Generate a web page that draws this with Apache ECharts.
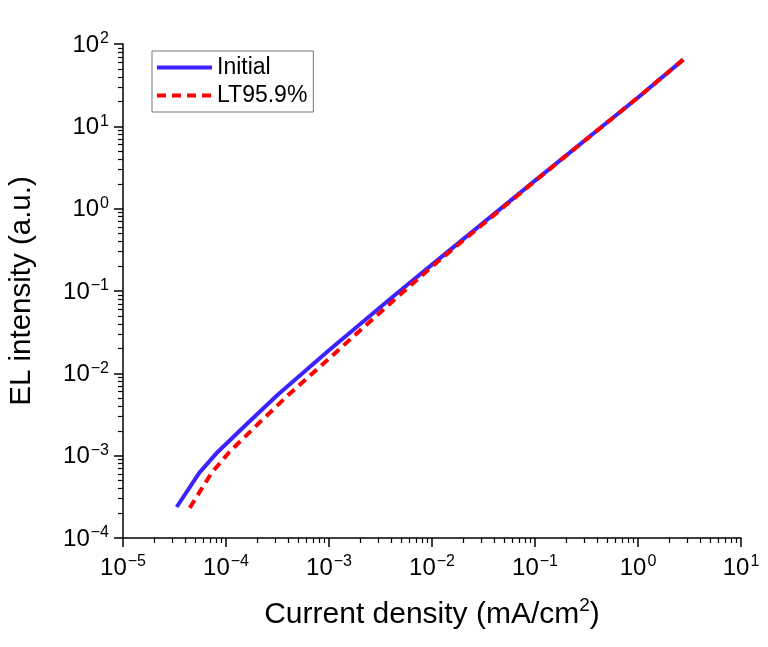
<!DOCTYPE html>
<html>
<head>
<meta charset="utf-8">
<script src="https://cdn.jsdelivr.net/npm/echarts@6/dist/echarts.min.js"></script>
<style>
  html, body { margin: 0; padding: 0; background: #fff; }
  #chart { width: 768px; height: 647px; }
</style>
</head>
<body>
<div id="chart"></div>
<script>
// current density (mA/cm2) and EL intensity (a.u.)
var initialX = [3.32e-5, 5.5e-5, 8.3e-5, 1.63e-4, 3.18e-4, 1e-3, 3.89e-3, 0.01, 0.1, 1, 2.75];
var initialY = [2.38e-4, 6.17e-4, 1.11e-3, 2.49e-3, 5.5e-3, 0.0191, 0.0794, 0.209, 2.19, 22.4, 64.6];
var lt959X = [4.45e-5, 7.24e-5, 1.08e-4, 2.09e-4, 4.05e-4, 1.23e-3, 4.37e-3, 0.0105, 0.101, 1, 2.75];
var lt959Y = [2.32e-4, 6.17e-4, 1.11e-3, 2.49e-3, 5.5e-3, 0.0191, 0.0794, 0.209, 2.19, 22.4, 64.6];
var seriesNames = ['Initial', 'LT95.9%'];

var xRange = [1e-5, 10];
var yRange = [1e-4, 100];

// minor ticks at 2..9 of each decade
function minorTicks(lo, hi) {
    var out = [];
    for (var e = lo; e < hi; e++) {
        for (var k = 2; k <= 9; k++) out.push(k * Math.pow(10, e));
    }
    return out;
}
var xMinor = minorTicks(-5, 1);
var yMinor = minorTicks(-4, 2);

var font = 'Liberation Sans';

function pairs(xs, ys) {
    var d = [];
    for (var i = 0; i < xs.length; i++) d.push([xs[i], ys[i]]);
    return d;
}

function powLabel(v) {
    var e = Math.round(Math.log10(v));
    return '{b|10}{s|' + String(e).replace('-', '\u2212') + '}';
}

var labelRich = {
    b: { fontSize: 24, fontFamily: font, color: '#000', lineHeight: 26, verticalAlign: 'bottom' },
    s: { fontSize: 16, fontFamily: font, color: '#000', lineHeight: 26, verticalAlign: 'top', padding: [0, 0, 6, 1] }
};

var axisLineStyle = { color: '#000', width: 1.5 };

var myChart = echarts.init(document.getElementById('chart'));
var option = {
    animation: false,
    grid: {
        left: 123,
        right: 27,
        top: 44,
        bottom: 109,
        containLabel: false,
        outerBoundsMode: 'none'
    },
    legend: {
        orient: 'vertical',
        left: 152,
        top: 51,
        itemWidth: 55,
        itemHeight: 14,
        itemGap: 5,
        padding: [5, 6, 5, 3],
        borderColor: '#777',
        borderWidth: 1,
        borderRadius: 0,
        itemStyle: { opacity: 0 },
        lineStyle: { width: 4 },
        textStyle: { fontSize: 23, fontFamily: font, color: '#000' },
        data: seriesNames
    },
    xAxis: [
        {
            type: 'log',
            logBase: 10,
            min: xRange[0],
            max: xRange[1],
            interval: 1,
            position: 'bottom',
            name: '{t|Current density (mA/cm}{u|2}{t|)}',
            nameLocation: 'middle',
            nameGap: 58,
            nameTextStyle: {
                rich: {
                    t: { fontSize: 30, fontFamily: font, color: '#000', lineHeight: 34, verticalAlign: 'bottom' },
                    u: { fontSize: 19, fontFamily: font, color: '#000', lineHeight: 34, verticalAlign: 'top' }
                }
            },
            axisLine: { show: true, onZero: false, lineStyle: axisLineStyle },
            axisTick: { show: true, inside: false, length: 9, lineStyle: axisLineStyle },
            axisLabel: { margin: 16, formatter: powLabel, rich: labelRich },
            splitLine: { show: false },
            minorTick: { show: false }
        },
        {
            type: 'log',
            logBase: 10,
            min: xRange[0],
            max: xRange[1],
            position: 'bottom',
            offset: 0,
            axisLine: { show: false },
            axisTick: { show: true, inside: false, length: 5, customValues: xMinor, lineStyle: { color: '#000', width: 1.2 } },
            axisLabel: { show: false },
            splitLine: { show: false }
        }
    ],
    yAxis: [
        {
            type: 'log',
            logBase: 10,
            min: yRange[0],
            max: yRange[1],
            interval: 1,
            position: 'left',
            name: 'EL intensity (a.u.)',
            nameLocation: 'middle',
            nameGap: 86,
            nameTextStyle: { fontSize: 29.5, fontFamily: font, color: '#000' },
            axisLine: { show: true, onZero: false, lineStyle: axisLineStyle },
            axisTick: { show: true, inside: false, length: 9, lineStyle: axisLineStyle },
            axisLabel: { margin: 14, formatter: powLabel, rich: labelRich },
            splitLine: { show: false },
            minorTick: { show: false }
        },
        {
            type: 'log',
            logBase: 10,
            min: yRange[0],
            max: yRange[1],
            position: 'left',
            offset: 0,
            axisLine: { show: false },
            axisTick: { show: true, inside: false, length: 5, customValues: yMinor, lineStyle: { color: '#000', width: 1.2 } },
            axisLabel: { show: false },
            splitLine: { show: false }
        }
    ],
    series: [
        {
            name: seriesNames[0],
            type: 'line',
            xAxisIndex: 0,
            yAxisIndex: 0,
            symbol: 'none',
            smooth: false,
            color: '#3b22ff',
            lineStyle: { color: '#3b22ff', width: 4 },
            data: pairs(initialX, initialY)
        },
        {
            name: seriesNames[1],
            type: 'line',
            xAxisIndex: 0,
            yAxisIndex: 0,
            symbol: 'none',
            smooth: false,
            color: '#ff0000',
            lineStyle: { color: '#ff0000', width: 4, type: [9, 6] },
            data: pairs(lt959X, lt959Y)
        }
    ]
};
myChart.setOption(option);
</script>
</body>
</html>
